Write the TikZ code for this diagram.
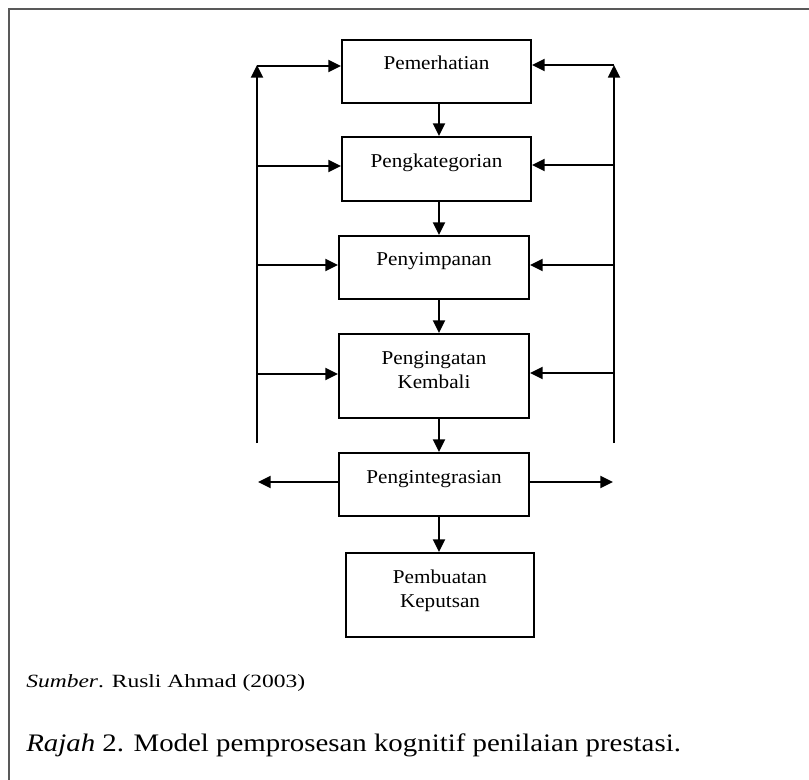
\documentclass[tikz,border=0pt]{standalone}
\usepackage{fontspec}
\usepackage{graphicx}
\setmainfont{Liberation Serif}
\usetikzlibrary{arrows.meta,calc}
\newcommand\sx[1]{\scalebox{1.08}[1]{#1}}
\tikzset{
  px/.style={x=0.75pt,y=-0.75pt},
  box/.style={draw=black,line width=1.4pt,rectangle,inner sep=0pt,minimum width=189*0.75pt},
  lbl/.style={anchor=base,inner sep=0pt,align=center,font=\fontsize{14.7pt}{18.2pt}\selectfont},
  arr/.style={line width=1.4pt,-{Triangle[length=9.5pt,width=9pt]}},
}
\begin{document}
\begin{tikzpicture}[px]
\useasboundingbox (0,0) rectangle (809,780);
% frame
\draw[line width=1.6pt,draw=black!65] (9,781) -- (9,9) -- (810,9);
% boxes
\node[box,minimum height=63*0.75pt] (b1) at (436.5,71.5) {};
\node[box,minimum height=64*0.75pt] (b2) at (436.5,169) {};
\node[box,minimum height=63*0.75pt,minimum width=190*0.75pt] (b3) at (434,267.5) {};
\node[box,minimum height=84*0.75pt,minimum width=190*0.75pt] (b4) at (434,376) {};
\node[box,minimum height=63*0.75pt,minimum width=190*0.75pt] (b5) at (434,484.5) {};
\node[box,minimum height=84*0.75pt,minimum width=188*0.75pt] (b6) at (440,595) {};
% labels
\node[lbl] (t1) at (436.5,70) {\sx{Pemerhatian}};
\node[lbl] (t2) at (436.5,167.7) {\sx{Pengkategorian}};
\node[lbl] (t3) at (434,265.7) {\sx{Penyimpanan}};
\node[lbl] (t4) at (434,388.3) {\sx{Pengingatan}\\\sx{Kembali}};
\node[lbl] (t5) at (434,483.3) {\sx{Pengintegrasian}};
\node[lbl] (t6) at (440,607.7) {\sx{Pembuatan}\\\sx{Keputsan}};
% vertical flow arrows
\coordinate (v1) at (439,0);
\draw[arr] (b1.south -| v1) -- (b2.north -| v1);
\draw[arr] (b2.south -| v1) -- (b3.north -| v1);
\draw[arr] (b3.south -| v1) -- (b4.north -| v1);
\draw[arr] (b4.south -| v1) -- (b5.north -| v1);
\draw[arr] (b5.south -| v1) -- (b6.north -| v1);
% side rails
\coordinate (Lb) at (257,443);
\coordinate (Lt) at (257,65);
\coordinate (Rb) at (614,443);
\coordinate (Rt) at (614,65);
\draw[arr] (Lb) -- (Lt);
\draw[arr] (Rb) -- (Rt);
\coordinate (L1) at (257,66);
\coordinate (L2) at (257,166);
\coordinate (L3) at (257,265);
\coordinate (L4) at (257,374);
\coordinate (R1) at (614,65);
\coordinate (R2) at (614,165);
\coordinate (R3) at (614,265);
\coordinate (R4) at (614,373);
\draw[arr] (L1) -- (L1 -| b1.west);
\draw[arr] (L2) -- (L2 -| b2.west);
\draw[arr] (L3) -- (L3 -| b3.west);
\draw[arr] (L4) -- (L4 -| b4.west);
\draw[arr] (R1) -- (R1 -| b1.east);
\draw[arr] (R2) -- (R2 -| b2.east);
\draw[arr] (R3) -- (R3 -| b3.east);
\draw[arr] (R4) -- (R4 -| b4.east);
% integration outputs
\coordinate (Lo) at (258,482);
\coordinate (Ro) at (613,482);
\draw[arr] (Lo -| b5.west) -- (Lo);
\draw[arr] (Ro -| b5.east) -- (Ro);
% captions
\node[anchor=base west,inner sep=0pt,font=\fontsize{14pt}{16pt}\selectfont] (src) at (26,687) {\scalebox{1.26}[1]{\textit{Sumber}. Rusli Ahmad (2003)}};
\node[anchor=base west,inner sep=0pt,font=\fontsize{18.9pt}{22pt}\selectfont] (cap) at (26,751.7) {\scalebox{1.145}[1]{\textit{Rajah} 2. Model pemprosesan kognitif penilaian prestasi.}};
\end{tikzpicture}
\end{document}
